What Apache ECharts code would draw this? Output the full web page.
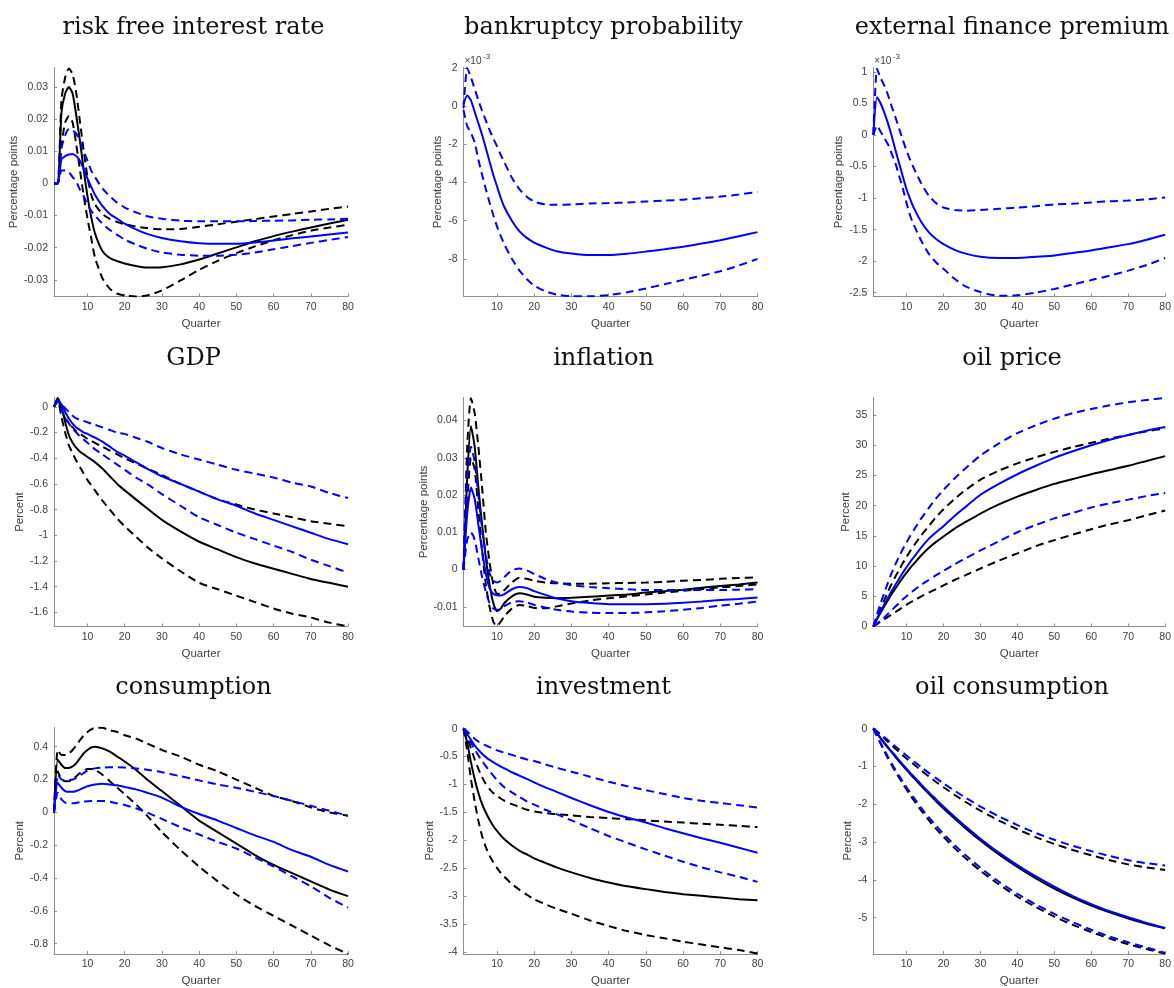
<!DOCTYPE html>
<html>
<head>
<meta charset="utf-8">
<script src="https://cdn.jsdelivr.net/npm/echarts@6/dist/echarts.min.js"></script>
<style>
  html, body { margin: 0; padding: 0; background: #ffffff; }
  #chart { width: 1174px; height: 988px; }
</style>
</head>
<body>
<div id="chart"></div>
<script>
// Quarters at which each impulse response is sampled
const QUARTERS = [1,2,3,4,5,6,7,8,9,10,11,12,14,16,18,20,23,26,30,35,40,45,50,55,60,65,70,75,80];
const X_TICKS = [10,20,30,40,50,60,70,80];

// risk free interest rate (percentage points)
const rateBlackMid = [0,0,0.022,0.028,0.030,0.028,0.021,0.013,0.004,-0.004,-0.0105,-0.0155,-0.021,-0.0232,-0.0242,-0.0249,-0.0257,-0.0262,-0.0261,-0.0252,-0.0237,-0.0218,-0.0199,-0.018,-0.0164,-0.015,-0.0137,-0.0125,-0.0113];
const rateBlackHi  = [0,0,0.026,0.033,0.0358,0.034,0.028,0.019,0.010,0.002,-0.0035,-0.0065,-0.0095,-0.011,-0.012,-0.0127,-0.0134,-0.0139,-0.0143,-0.0142,-0.0135,-0.0127,-0.0119,-0.0111,-0.0103,-0.0095,-0.0087,-0.0079,-0.0072];
const rateBlackLo  = [0,0,0.012,0.019,0.021,0.019,0.012,0.004,-0.004,-0.011,-0.017,-0.023,-0.0295,-0.0328,-0.0343,-0.0349,-0.0352,-0.0349,-0.0333,-0.0302,-0.0269,-0.0241,-0.0217,-0.0196,-0.0177,-0.0161,-0.0147,-0.0137,-0.0129];
const rateBlueMid  = [0,0,0.0075,0.0085,0.009,0.0092,0.0085,0.007,0.0045,0.0015,-0.001,-0.0035,-0.007,-0.0095,-0.011,-0.0125,-0.0143,-0.0157,-0.017,-0.018,-0.0186,-0.0188,-0.0188,-0.0184,-0.0178,-0.0171,-0.0165,-0.0159,-0.0153];
const rateBlueHi   = [0,0,0.011,0.015,0.017,0.0165,0.0155,0.013,0.010,0.007,0.004,0.002,-0.0015,-0.004,-0.006,-0.0075,-0.009,-0.0102,-0.011,-0.0116,-0.0118,-0.0118,-0.0118,-0.0117,-0.0116,-0.0115,-0.0113,-0.0112,-0.011];
const rateBlueLo   = [0,0,0.004,0.004,0.0035,0.002,0.0005,-0.002,-0.004,-0.0065,-0.0085,-0.010,-0.0125,-0.0145,-0.016,-0.0175,-0.019,-0.0203,-0.0215,-0.0222,-0.0225,-0.0225,-0.0222,-0.0215,-0.0205,-0.0195,-0.0185,-0.0176,-0.0167];
const rateTicks = [-0.03,-0.02,-0.01,0,0.01,0.02,0.03];

// bankruptcy probability (percentage points, x 10^-3)
const bankBlueMid = [0.1,0.55,0.3,-0.3,-0.9,-1.5,-2.2,-2.9,-3.6,-4.2,-4.8,-5.3,-6.0,-6.55,-6.9,-7.15,-7.4,-7.6,-7.72,-7.8,-7.8,-7.73,-7.62,-7.5,-7.36,-7.2,-7.02,-6.82,-6.6];
const bankBlueHi  = [-0.1,2.0,1.5,0.9,0.3,-0.25,-0.75,-1.25,-1.7,-2.1,-2.55,-2.95,-3.75,-4.35,-4.75,-5.0,-5.15,-5.17,-5.15,-5.1,-5.08,-5.05,-5.0,-4.95,-4.9,-4.82,-4.74,-4.63,-4.5];
const bankBlueLo  = [-0.2,-1.05,-1.4,-1.9,-2.8,-3.6,-4.35,-5.05,-5.7,-6.3,-6.8,-7.25,-8.0,-8.6,-9.05,-9.4,-9.7,-9.87,-9.95,-9.96,-9.9,-9.75,-9.55,-9.33,-9.1,-8.88,-8.65,-8.35,-8.0];
const bankTicks = [-8,-6,-4,-2,0,2];

// external finance premium (percentage points, x 10^-3)
const efpBlueMid = [0,0.6,0.5,0.35,0.18,-0.02,-0.24,-0.45,-0.66,-0.86,-1.02,-1.16,-1.38,-1.54,-1.65,-1.73,-1.82,-1.88,-1.93,-1.95,-1.95,-1.93,-1.91,-1.87,-1.83,-1.78,-1.73,-1.66,-1.58];
const efpBlueHi  = [0,1.05,0.9,0.78,0.63,0.45,0.28,0.1,-0.08,-0.25,-0.4,-0.53,-0.77,-0.96,-1.08,-1.15,-1.19,-1.2,-1.19,-1.17,-1.15,-1.13,-1.1,-1.09,-1.07,-1.05,-1.04,-1.02,-0.99];
const efpBlueLo  = [0,0.15,0.05,-0.05,-0.15,-0.3,-0.45,-0.65,-0.85,-1.08,-1.28,-1.43,-1.68,-1.88,-2.02,-2.12,-2.28,-2.4,-2.49,-2.55,-2.54,-2.5,-2.44,-2.37,-2.3,-2.23,-2.15,-2.06,-1.95];
const efpTicks = [-2.5,-2,-1.5,-1,-0.5,0,0.5,1];

// GDP (percent)
const gdpBlackMid = [0,0.07,0.0,-0.12,-0.22,-0.28,-0.32,-0.35,-0.37,-0.39,-0.41,-0.43,-0.48,-0.54,-0.6,-0.65,-0.72,-0.79,-0.88,-0.97,-1.05,-1.11,-1.17,-1.22,-1.26,-1.30,-1.34,-1.37,-1.40];
const gdpBlackHi  = [0,0.06,-0.03,-0.09,-0.13,-0.16,-0.19,-0.21,-0.23,-0.25,-0.265,-0.28,-0.31,-0.34,-0.37,-0.4,-0.44,-0.48,-0.53,-0.6,-0.66,-0.72,-0.76,-0.8,-0.83,-0.86,-0.89,-0.91,-0.93];
const gdpBlackLo  = [0,0.05,-0.08,-0.2,-0.3,-0.36,-0.42,-0.47,-0.52,-0.57,-0.61,-0.65,-0.73,-0.8,-0.87,-0.93,-1.01,-1.09,-1.18,-1.28,-1.37,-1.42,-1.47,-1.52,-1.57,-1.61,-1.64,-1.68,-1.71];
const gdpBlueMid  = [0,0.05,0.02,-0.04,-0.09,-0.13,-0.16,-0.18,-0.2,-0.21,-0.225,-0.24,-0.27,-0.31,-0.35,-0.38,-0.43,-0.48,-0.54,-0.6,-0.66,-0.72,-0.77,-0.83,-0.88,-0.93,-0.98,-1.03,-1.07];
const gdpBlueHi   = [0,0.04,0.02,-0.01,-0.04,-0.07,-0.09,-0.1,-0.11,-0.12,-0.13,-0.14,-0.16,-0.18,-0.2,-0.21,-0.24,-0.27,-0.32,-0.37,-0.41,-0.45,-0.49,-0.52,-0.55,-0.59,-0.62,-0.67,-0.71];
const gdpBlueLo   = [0,0.04,-0.02,-0.08,-0.13,-0.17,-0.2,-0.23,-0.255,-0.28,-0.305,-0.33,-0.37,-0.41,-0.45,-0.49,-0.55,-0.6,-0.68,-0.77,-0.86,-0.92,-0.98,-1.03,-1.08,-1.13,-1.19,-1.24,-1.29];
const gdpTicks = [-1.6,-1.4,-1.2,-1,-0.8,-0.6,-0.4,-0.2,0];

// inflation (percentage points)
const inflBlackMid = [0,0.025,0.0385,0.033,0.022,0.012,0.003,-0.004,-0.009,-0.0112,-0.0105,-0.009,-0.0072,-0.0064,-0.0067,-0.0073,-0.0076,-0.0077,-0.0076,-0.0073,-0.0070,-0.0067,-0.0062,-0.0058,-0.0054,-0.0049,-0.0044,-0.0040,-0.0035];
const inflBlackHi  = [0,0.033,0.046,0.042,0.033,0.022,0.01,0.002,-0.004,-0.0065,-0.0065,-0.0055,-0.0035,-0.0022,-0.0025,-0.003,-0.0035,-0.0037,-0.0038,-0.0038,-0.0037,-0.0036,-0.0035,-0.0033,-0.003,-0.0028,-0.0025,-0.0023,-0.0021];
const inflBlackLo  = [0,0.018,0.03,0.027,0.016,0.005,-0.004,-0.01,-0.014,-0.0152,-0.014,-0.0125,-0.0105,-0.0095,-0.0098,-0.0103,-0.0104,-0.0099,-0.0091,-0.0083,-0.0077,-0.0072,-0.0067,-0.0062,-0.0057,-0.0052,-0.0048,-0.0044,-0.004];
const inflBlueMid  = [0,0.015,0.022,0.019,0.012,0.005,-0.001,-0.005,-0.0065,-0.0069,-0.007,-0.0066,-0.0053,-0.0047,-0.005,-0.0058,-0.0068,-0.0077,-0.0085,-0.009,-0.0093,-0.0093,-0.0093,-0.0092,-0.0089,-0.0086,-0.0082,-0.0079,-0.0075];
const inflBlueHi   = [0,0.025,0.033,0.029,0.02,0.011,0.004,-0.001,-0.003,-0.0035,-0.003,-0.002,-0.0002,0.0003,-0.0002,-0.0012,-0.0025,-0.0035,-0.0042,-0.0047,-0.005,-0.0053,-0.0055,-0.0055,-0.0055,-0.0055,-0.0055,-0.0054,-0.0053];
const inflBlueLo   = [0,0.008,0.01,0.008,0.003,-0.002,-0.006,-0.009,-0.0105,-0.0108,-0.0105,-0.0098,-0.0088,-0.0085,-0.0088,-0.0095,-0.0102,-0.0108,-0.0113,-0.0116,-0.0117,-0.0117,-0.0115,-0.0112,-0.0108,-0.0103,-0.0097,-0.0092,-0.0086];
const inflTicks = [-0.01,0,0.01,0.02,0.03,0.04];

// oil price (percent)
const oilpBlackMid = [0,1.2,2.3,3.4,4.4,5.4,6.3,7.2,8.1,8.9,9.7,10.4,11.8,13.0,14.0,14.9,16.2,17.3,18.7,20.2,21.5,22.6,23.6,24.4,25.2,25.9,26.6,27.4,28.2];
const oilpBlackHi  = [0,1.5,3.0,4.4,5.8,7.1,8.3,9.4,10.5,11.5,12.5,13.4,15.1,16.6,18.1,19.4,21.1,22.6,24.3,25.8,27.0,28.0,28.9,29.7,30.4,31.1,31.7,32.3,32.8];
const oilpBlackLo  = [0,0.4,0.8,1.2,1.6,2.0,2.4,2.8,3.2,3.6,4.0,4.3,5.0,5.6,6.2,6.8,7.7,8.5,9.6,10.9,12.1,13.3,14.3,15.2,16.1,16.9,17.6,18.4,19.2];
const oilpBlueMid  = [0,1.3,2.5,3.7,4.8,5.9,6.9,7.9,8.9,9.8,10.7,11.5,13.1,14.5,15.6,16.6,18.3,19.8,21.8,23.6,25.2,26.6,27.9,29.0,30.0,30.9,31.7,32.4,33.0];
const oilpBlueHi   = [0,2.0,3.9,5.6,7.3,8.9,10.3,11.6,12.8,13.9,15.0,16.0,17.9,19.6,21.2,22.6,24.5,26.2,28.3,30.3,32.0,33.3,34.4,35.3,36.0,36.6,37.1,37.5,37.85];
const oilpBlueLo   = [0,0.5,1.0,1.5,2.1,2.7,3.3,3.9,4.5,5.0,5.5,6.0,6.9,7.7,8.5,9.2,10.3,11.3,12.6,14.1,15.6,16.8,17.9,18.8,19.7,20.4,21.0,21.6,22.1];
const oilpTicks = [0,5,10,15,20,25,30,35];

// consumption (percent)
const consBlackMid = [0,0.32,0.29,0.27,0.27,0.28,0.3,0.33,0.36,0.38,0.395,0.4,0.39,0.37,0.34,0.31,0.26,0.2,0.13,0.04,-0.05,-0.12,-0.19,-0.26,-0.32,-0.37,-0.42,-0.47,-0.51];
const consBlackHi  = [0,0.38,0.35,0.35,0.36,0.38,0.41,0.44,0.47,0.49,0.505,0.515,0.515,0.5,0.49,0.47,0.45,0.42,0.38,0.34,0.29,0.25,0.2,0.15,0.1,0.07,0.03,0.0,-0.02];
const consBlackLo  = [0,0.25,0.2,0.19,0.19,0.2,0.22,0.24,0.255,0.265,0.265,0.26,0.23,0.19,0.15,0.11,0.05,-0.02,-0.12,-0.23,-0.33,-0.42,-0.5,-0.57,-0.63,-0.69,-0.75,-0.81,-0.862];
const consBlueMid  = [0,0.18,0.15,0.13,0.125,0.125,0.13,0.14,0.15,0.16,0.165,0.17,0.175,0.17,0.165,0.155,0.14,0.12,0.09,0.035,-0.01,-0.05,-0.095,-0.14,-0.18,-0.23,-0.27,-0.32,-0.36];
const consBlueHi   = [0,0.23,0.2,0.195,0.195,0.2,0.21,0.225,0.24,0.255,0.263,0.268,0.273,0.275,0.275,0.273,0.268,0.26,0.245,0.22,0.195,0.17,0.15,0.125,0.1,0.07,0.04,0.01,-0.02];
const consBlueLo   = [0,0.12,0.08,0.06,0.055,0.055,0.058,0.062,0.065,0.068,0.07,0.07,0.07,0.065,0.055,0.045,0.025,0.0,-0.04,-0.09,-0.135,-0.18,-0.22,-0.275,-0.33,-0.39,-0.45,-0.52,-0.58];
const consTicks = [-0.8,-0.6,-0.4,-0.2,0,0.2,0.4];

// investment (percent)
const invBlackMid = [0,-0.25,-0.6,-0.9,-1.15,-1.35,-1.5,-1.63,-1.74,-1.83,-1.91,-1.98,-2.09,-2.18,-2.25,-2.32,-2.4,-2.48,-2.57,-2.67,-2.75,-2.82,-2.87,-2.92,-2.96,-2.99,-3.02,-3.05,-3.07];
const invBlackHi  = [0,-0.15,-0.35,-0.55,-0.72,-0.87,-0.99,-1.08,-1.15,-1.2,-1.25,-1.29,-1.35,-1.4,-1.45,-1.48,-1.51,-1.53,-1.55,-1.58,-1.6,-1.62,-1.64,-1.66,-1.68,-1.7,-1.72,-1.74,-1.76];
const invBlackLo  = [0,-0.4,-0.9,-1.3,-1.65,-1.92,-2.12,-2.27,-2.39,-2.49,-2.58,-2.65,-2.78,-2.88,-2.97,-3.05,-3.14,-3.22,-3.31,-3.43,-3.53,-3.62,-3.69,-3.75,-3.81,-3.86,-3.91,-3.96,-4.02];
const invBlueMid  = [0,-0.1,-0.2,-0.3,-0.38,-0.45,-0.51,-0.56,-0.6,-0.64,-0.68,-0.71,-0.78,-0.84,-0.9,-0.96,-1.05,-1.13,-1.24,-1.37,-1.49,-1.59,-1.68,-1.78,-1.87,-1.96,-2.04,-2.13,-2.22];
const invBlueHi   = [0,-0.05,-0.12,-0.18,-0.23,-0.27,-0.3,-0.33,-0.36,-0.39,-0.41,-0.43,-0.47,-0.51,-0.55,-0.58,-0.64,-0.7,-0.77,-0.86,-0.95,-1.03,-1.1,-1.17,-1.24,-1.29,-1.33,-1.37,-1.41];
const invBlueLo   = [0,-0.12,-0.25,-0.37,-0.48,-0.58,-0.67,-0.76,-0.84,-0.92,-0.99,-1.05,-1.14,-1.22,-1.3,-1.36,-1.45,-1.53,-1.64,-1.78,-1.92,-2.04,-2.16,-2.27,-2.38,-2.48,-2.57,-2.65,-2.74];
const invTicks = [-4,-3.5,-3,-2.5,-2,-1.5,-1,-0.5,0];

// oil consumption (percent)
const oilcBlackMid = [0,-0.13,-0.26,-0.39,-0.51,-0.63,-0.75,-0.87,-0.98,-1.09,-1.2,-1.31,-1.52,-1.72,-1.92,-2.11,-2.38,-2.64,-2.96,-3.33,-3.66,-3.96,-4.23,-4.47,-4.68,-4.86,-5.02,-5.16,-5.28];
const oilcBlackHi  = [0,-0.08,-0.17,-0.26,-0.35,-0.44,-0.53,-0.62,-0.71,-0.79,-0.87,-0.95,-1.11,-1.26,-1.41,-1.55,-1.75,-1.94,-2.17,-2.43,-2.66,-2.87,-3.05,-3.21,-3.35,-3.48,-3.59,-3.67,-3.74];
const oilcBlackLo  = [0,-0.2,-0.4,-0.6,-0.79,-0.97,-1.14,-1.3,-1.46,-1.61,-1.76,-1.9,-2.17,-2.42,-2.65,-2.86,-3.16,-3.43,-3.76,-4.12,-4.44,-4.72,-4.97,-5.19,-5.38,-5.55,-5.7,-5.83,-5.95];
const oilcBlueMid  = [0,-0.12,-0.25,-0.37,-0.49,-0.61,-0.72,-0.84,-0.95,-1.06,-1.17,-1.27,-1.48,-1.68,-1.87,-2.06,-2.33,-2.59,-2.91,-3.28,-3.61,-3.91,-4.18,-4.43,-4.64,-4.83,-4.99,-5.14,-5.27];
const oilcBlueHi   = [0,-0.07,-0.15,-0.23,-0.31,-0.39,-0.47,-0.55,-0.63,-0.71,-0.79,-0.87,-1.02,-1.17,-1.31,-1.45,-1.64,-1.83,-2.06,-2.32,-2.55,-2.76,-2.94,-3.1,-3.24,-3.37,-3.48,-3.56,-3.62];
const oilcBlueLo   = [0,-0.19,-0.38,-0.57,-0.75,-0.92,-1.09,-1.25,-1.4,-1.55,-1.69,-1.83,-2.1,-2.34,-2.57,-2.78,-3.08,-3.35,-3.68,-4.05,-4.37,-4.65,-4.9,-5.12,-5.32,-5.5,-5.65,-5.79,-5.93];
const oilcTicks = [-5,-4,-3,-2,-1,0];

// Panel definitions (row-major, 3 x 3)
const panels = [
  { title: 'risk free interest rate', yName: 'Percentage points', range: [-0.0352, 0.0361], ticks: rateTicks,
    black: [rateBlackMid, rateBlackHi, rateBlackLo], blue: [rateBlueMid, rateBlueHi, rateBlueLo] },
  { title: 'bankruptcy probability', yName: 'Percentage points', range: [-9.97, 2.02], ticks: bankTicks, exponent: '-3',
    black: null, blue: [bankBlueMid, bankBlueHi, bankBlueLo] },
  { title: 'external finance premium', yName: 'Percentage points', range: [-2.56, 1.07], ticks: efpTicks, exponent: '-3',
    black: null, blue: [efpBlueMid, efpBlueHi, efpBlueLo] },
  { title: 'GDP', yName: 'Percent', range: [-1.71, 0.073], ticks: gdpTicks,
    black: [gdpBlackMid, gdpBlackHi, gdpBlackLo], blue: [gdpBlueMid, gdpBlueHi, gdpBlueLo] },
  { title: 'inflation', yName: 'Percentage points', range: [-0.0153, 0.0462], ticks: inflTicks,
    black: [inflBlackMid, inflBlackHi, inflBlackLo], blue: [inflBlueMid, inflBlueHi, inflBlueLo] },
  { title: 'oil price', yName: 'Percent', range: [0, 37.9], ticks: oilpTicks,
    black: [oilpBlackMid, oilpBlackHi, oilpBlackLo], blue: [oilpBlueMid, oilpBlueHi, oilpBlueLo] },
  { title: 'consumption', yName: 'Percent', range: [-0.8625, 0.517], ticks: consTicks,
    black: [consBlackMid, consBlackHi, consBlackLo], blue: [consBlueMid, consBlueHi, consBlueLo] },
  { title: 'investment', yName: 'Percent', range: [-4.03, 0.02], ticks: invTicks,
    black: [invBlackMid, invBlackHi, invBlackLo], blue: [invBlueMid, invBlueHi, invBlueLo] },
  { title: 'oil consumption', yName: 'Percent', range: [-5.96, 0.03], ticks: oilcTicks,
    black: [oilcBlackMid, oilcBlackHi, oilcBlackLo], blue: [oilcBlueMid, oilcBlueHi, oilcBlueLo] }
];

// Layout of the 3 x 3 grid of axes
const COL_LEFT = [54, 463.5, 873.3];
const ROW_TOP = [67.5, 397.5, 727.5];
const PLOT_W = 294;
const PLOT_H = 229;
const TITLE_X = [193.5, 603.5, 1012];
const TITLE_Y = [27.5, 358.5, 687.5];
const Y_NAME_GAP = [[31, 17, 26], [26, 31.5, 19.5], [26, 27, 17]];

const AXIS_GREY = '#8f8f8f';
const TEXT_GREY = '#404040';
const SANS = '"Liberation Sans", Arial, Helvetica, sans-serif';
const SERIF = '"DejaVu Serif", "Liberation Serif", serif';

function fmt(v) {
  const s = parseFloat(Number(v).toFixed(6)).toString();
  return s === '-0' ? '0' : s;
}

const grids = [], xAxes = [], yAxes = [], series = [], graphics = [];

panels.forEach((p, i) => {
  const r = Math.floor(i / 3), c = i % 3;
  grids.push({ left: COL_LEFT[c], top: ROW_TOP[r], width: PLOT_W, height: PLOT_H, containLabel: false });

  xAxes.push({
    type: 'value', gridIndex: i, min: 1, max: 80,
    axisLine: { show: true, onZero: false, lineStyle: { color: AXIS_GREY, width: 1 } },
    axisTick: { show: true, inside: true, length: 3, customValues: X_TICKS, lineStyle: { color: AXIS_GREY } },
    axisLabel: { show: true, customValues: X_TICKS, formatter: fmt, color: TEXT_GREY, fontSize: 10.5, fontFamily: SANS, margin: 5 },
    splitLine: { show: false },
    name: 'Quarter', nameLocation: 'middle', nameGap: 21,
    nameTextStyle: { color: TEXT_GREY, fontSize: 11.5, fontFamily: SANS }
  });

  yAxes.push({
    type: 'value', gridIndex: i, min: p.range[0], max: p.range[1],
    axisLine: { show: true, onZero: false, lineStyle: { color: AXIS_GREY, width: 1 } },
    axisTick: { show: true, inside: true, length: 3, customValues: p.ticks, lineStyle: { color: AXIS_GREY } },
    axisLabel: { show: true, customValues: p.ticks, formatter: fmt, color: TEXT_GREY, fontSize: 10.5, fontFamily: SANS, margin: 6 },
    splitLine: { show: false },
    name: p.yName, nameLocation: 'middle', nameRotate: 90, nameGap: Y_NAME_GAP[r][c],
    nameTextStyle: { color: TEXT_GREY, fontSize: 11.5, fontFamily: SANS }
  });

  const addLine = (values, color, dashed) => {
    series.push({
      type: 'line', xAxisIndex: i, yAxisIndex: i,
      data: QUARTERS.map((q, k) => [q, values[k]]),
      showSymbol: false, symbol: 'none', smooth: 0.2, clip: true,
      lineStyle: { color: color, width: 2, type: dashed ? [8, 5] : 'solid' },
      emphasis: { disabled: true }, silent: true, z: color === '#0000ff' ? 3 : 2
    });
  };
  if (p.black) {
    addLine(p.black[0], '#000000', false);
    addLine(p.black[1], '#000000', true);
    addLine(p.black[2], '#000000', true);
  }
  addLine(p.blue[0], '#0000ff', false);
  addLine(p.blue[1], '#0000ff', true);
  addLine(p.blue[2], '#0000ff', true);

  graphics.push({
    type: 'text', x: TITLE_X[c], y: TITLE_Y[r],
    style: { text: p.title, font: '24px ' + SERIF, fill: '#111111', textAlign: 'center', textVerticalAlign: 'middle' }
  });

  if (p.exponent) {
    const x0 = COL_LEFT[c] + 1;
    graphics.push({
      type: 'text', x: x0, y: ROW_TOP[r] - 6.5,
      style: { text: '\u00d710', font: '10px ' + SANS, fill: TEXT_GREY, textAlign: 'left', textVerticalAlign: 'middle' }
    });
    graphics.push({
      type: 'text', x: x0 + 18.5, y: ROW_TOP[r] - 10.5,
      style: { text: p.exponent, font: '8px ' + SANS, fill: TEXT_GREY, textAlign: 'left', textVerticalAlign: 'middle' }
    });
  }
});

const chart = echarts.init(document.getElementById('chart'), null, { renderer: 'canvas' });
chart.setOption({
  backgroundColor: '#ffffff',
  animation: false,
  grid: grids,
  xAxis: xAxes,
  yAxis: yAxes,
  series: series,
  graphic: graphics
});
</script>
</body>
</html>
